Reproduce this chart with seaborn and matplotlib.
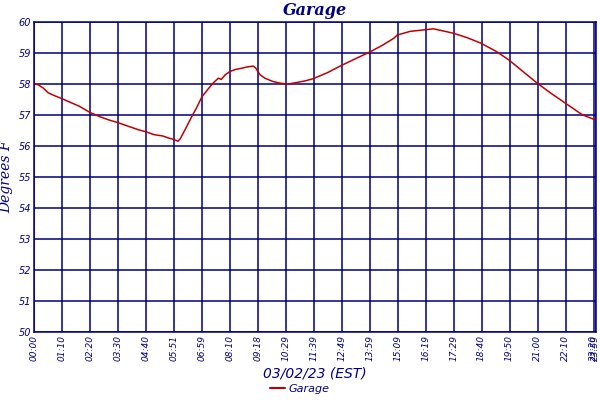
import matplotlib
matplotlib.use("Agg")
import matplotlib.pyplot as plt
import seaborn as sns
import pandas as pd
from matplotlib.lines import Line2D

# sample index (readings are not evenly spaced in time)
sample = [0, 11, 24, 36, 53, 71, 90, 115, 140, 165, 189, 210, 239, 264, 279, 301,
          322, 338, 349, 361, 367, 380, 396, 409, 421, 438, 450, 462, 469, 479, 490,
          504, 520, 533, 549, 555, 566, 578, 599, 616, 636, 653, 678, 698, 735, 768,
          805, 840, 872, 901, 909, 942, 979, 1000, 1021, 1049, 1083, 1118, 1157, 1188,
          1224, 1259, 1294, 1329, 1372, 1400, 1406]
temp_f = [58.01, 57.98, 57.87, 57.72, 57.62, 57.53, 57.42, 57.28, 57.09, 56.95, 56.84,
          56.76, 56.63, 56.52, 56.47, 56.37, 56.33, 56.26, 56.22, 56.16, 56.25, 56.57,
          56.97, 57.28, 57.60, 57.87, 58.05, 58.19, 58.15, 58.30, 58.40, 58.47, 58.51,
          58.55, 58.58, 58.52, 58.30, 58.19, 58.08, 58.03, 58.00, 58.04, 58.10, 58.17,
          58.37, 58.59, 58.82, 59.03, 59.25, 59.48, 59.58, 59.70, 59.75, 59.78, 59.72,
          59.64, 59.50, 59.32, 59.05, 58.78, 58.40, 58.03, 57.70, 57.39, 57.01, 56.87,
          56.84]

tick_pos = [0, 70, 140, 210, 280, 350, 420, 490, 560, 630, 700, 770, 840, 910, 980,
            1050, 1120, 1190, 1260, 1330, 1400, 1406]
tick_labels = ["00:00", "01:10", "02:20", "03:30", "04:40", "05:51", "06:59", "08:10",
               "09:18", "10:29", "11:39", "12:49", "13:59", "15:09", "16:19", "17:29",
               "18:40", "19:50", "21:00", "22:10", "23:20", "23:59"]
y_ticks = [50, 51, 52, 53, 54, 55, 56, 57, 58, 59, 60]

title = "Garage"
x_label = "03/02/23 (EST)"
y_label = "Degrees F"
series_name = "Garage"

navy = "#000080"
red = "#c00000"

sns.set_theme(style="white")
plt.rcParams["font.family"] = ["DejaVu Sans"]

fig = plt.figure(figsize=(6, 4), dpi=100)
ax = fig.add_axes([0.0562, 0.169, 0.937, 0.776])

df = pd.DataFrame({"sample": sample, "temp": temp_f})
sns.lineplot(data=df, x="sample", y="temp", ax=ax, color=red, linewidth=1.1, legend=False)

ax.set_xlim(0, 1406)
ax.set_ylim(50, 60)
ax.set_xticks(tick_pos)
ax.set_xticklabels(tick_labels, rotation=90, fontsize=6.5, color=navy, style="italic")
ax.set_yticks(y_ticks)
ax.set_yticklabels([str(v) for v in y_ticks], fontsize=7, color=navy, style="italic")
ax.tick_params(axis="both", length=0, pad=2)
ax.grid(True, color=navy, linewidth=1.1)
for s in ax.spines.values():
    s.set_color(navy)
    s.set_linewidth(1.1)

ax.set_xlabel(x_label, fontsize=10, color=navy, style="italic", labelpad=4)
ax.set_ylabel(y_label, fontsize=10, color=navy, style="italic", family=["DejaVu Serif"], labelpad=4)
ax.set_title(title, fontsize=11.5, color=navy, style="italic", weight="bold",
             family=["DejaVu Serif"], pad=5)

handle = Line2D([0], [0], color=red, linewidth=1.5)
fig.legend([handle], [series_name], loc="lower center", bbox_to_anchor=(0.5, -0.01),
           frameon=False, handlelength=1.3, handletextpad=0.4,
           prop={"size": 8, "style": "italic"}, labelcolor=navy)

fig.savefig("out.png", dpi=100)
